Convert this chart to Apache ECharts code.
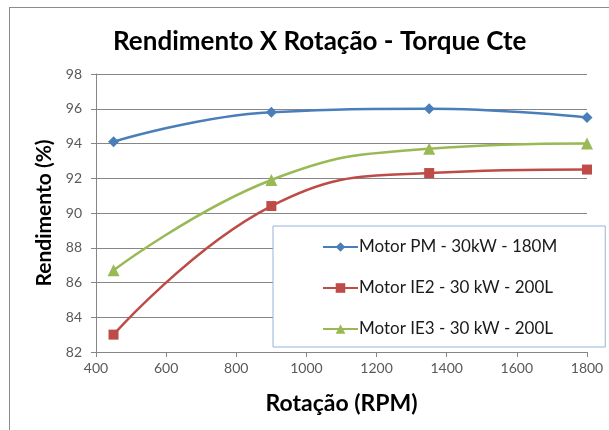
<!DOCTYPE html>
<html><head><meta charset="utf-8">
<script src="https://cdn.jsdelivr.net/npm/echarts@6/dist/echarts.min.js"></script>
<style>
html,body{margin:0;padding:0;background:#fff;}
#frame{position:absolute;left:9px;top:7px;width:620px;height:440px;border-top:1px solid #8c8c8c;border-left:1px solid #8c8c8c;}
#c{position:absolute;left:0;top:0;width:609px;height:430px;}
</style></head>
<body>
<div id="frame"></div>
<div id="c"></div>
<script>
const rpm = [450, 900, 1350, 1800];
const motorPM = [94.1, 95.8, 96.0, 95.5];
const motorIE2 = [83.0, 90.4, 92.3, 92.5];
const motorIE3 = [86.7, 91.9, 93.7, 94.0];
const seriesNames = ['Motor PM - 30kW - 180M', 'Motor IE2 - 30 kW - 200L', 'Motor IE3 - 30 kW - 200L'];

const FONT = 'Lato, "Open Sans", sans-serif';
const chart = echarts.init(document.getElementById('c'), null, {renderer: 'canvas'});
const pair = (xs, ys) => xs.map((x, i) => [x, ys[i]]);
const mk = (name, ys, color, symbol, size) => ({
  name, type: 'line', data: pair(rpm, ys), smooth: 0.45,
  symbol, symbolSize: size, showSymbol: true,
  lineStyle: {color, width: 2.5}, itemStyle: {color},
  emphasis: {disabled: true}, z: 3
});
chart.setOption({
  animation: false,
  backgroundColor: 'transparent',
  title: {
    text: 'Rendimento X Rotação - Torque Cte', left: 108, top: 24, itemGap: 0,
    textStyle: {fontFamily: FONT, fontSize: 26, fontWeight: 'bold', color: '#000'}
  },
  grid: {left: 96, right: 22, top: 74, bottom: 78},
  xAxis: {
    type: 'value', min: 400, max: 1800, interval: 200,
    name: 'Rotação (RPM)', nameLocation: 'middle', nameGap: 40,
    nameTextStyle: {fontFamily: FONT, fontSize: 23, fontWeight: 'bold', color: '#000'},
    axisLine: {show: true, lineStyle: {color: '#868686'}},
    axisTick: {show: true, length: 5, lineStyle: {color: '#868686'}},
    axisLabel: {fontFamily: FONT, fontSize: 14, color: '#595959', margin: 9, formatter: v => String(v)},
    splitLine: {show: false}
  },
  yAxis: {
    type: 'value', min: 82, max: 98, interval: 2,
    name: 'Rendimento (%)', nameLocation: 'middle', nameGap: 40,
    nameTextStyle: {fontFamily: FONT, fontSize: 21, fontWeight: 'bold', color: '#000'},
    axisLine: {show: true, lineStyle: {color: '#868686'}},
    axisTick: {show: true, length: 5, lineStyle: {color: '#868686'}},
    axisLabel: {fontFamily: FONT, fontSize: 14, color: '#595959', margin: 14},
    splitLine: {show: true, lineStyle: {color: '#868686', width: 1}}
  },
  legend: {
    orient: 'vertical', left: 273, top: 226,
    padding: [12, 48, 9, 49],
    itemWidth: 35, itemHeight: 12, itemGap: 23,
    backgroundColor: '#fff', borderColor: '#95b3d7', borderWidth: 1, borderRadius: 0,
    textStyle: {fontFamily: FONT, fontSize: 17, color: '#1a1a1a', lineHeight: 18, padding: [0, 0, 0, -4]},
    data: seriesNames
  },
  series: [
    mk(seriesNames[0], motorPM, '#4a7ebb', 'diamond', 11),
    mk(seriesNames[1], motorIE2, '#be4b48', 'rect', 10),
    mk(seriesNames[2], motorIE3, '#98b954', 'triangle', 12)
  ]
});
</script>
</body></html>
